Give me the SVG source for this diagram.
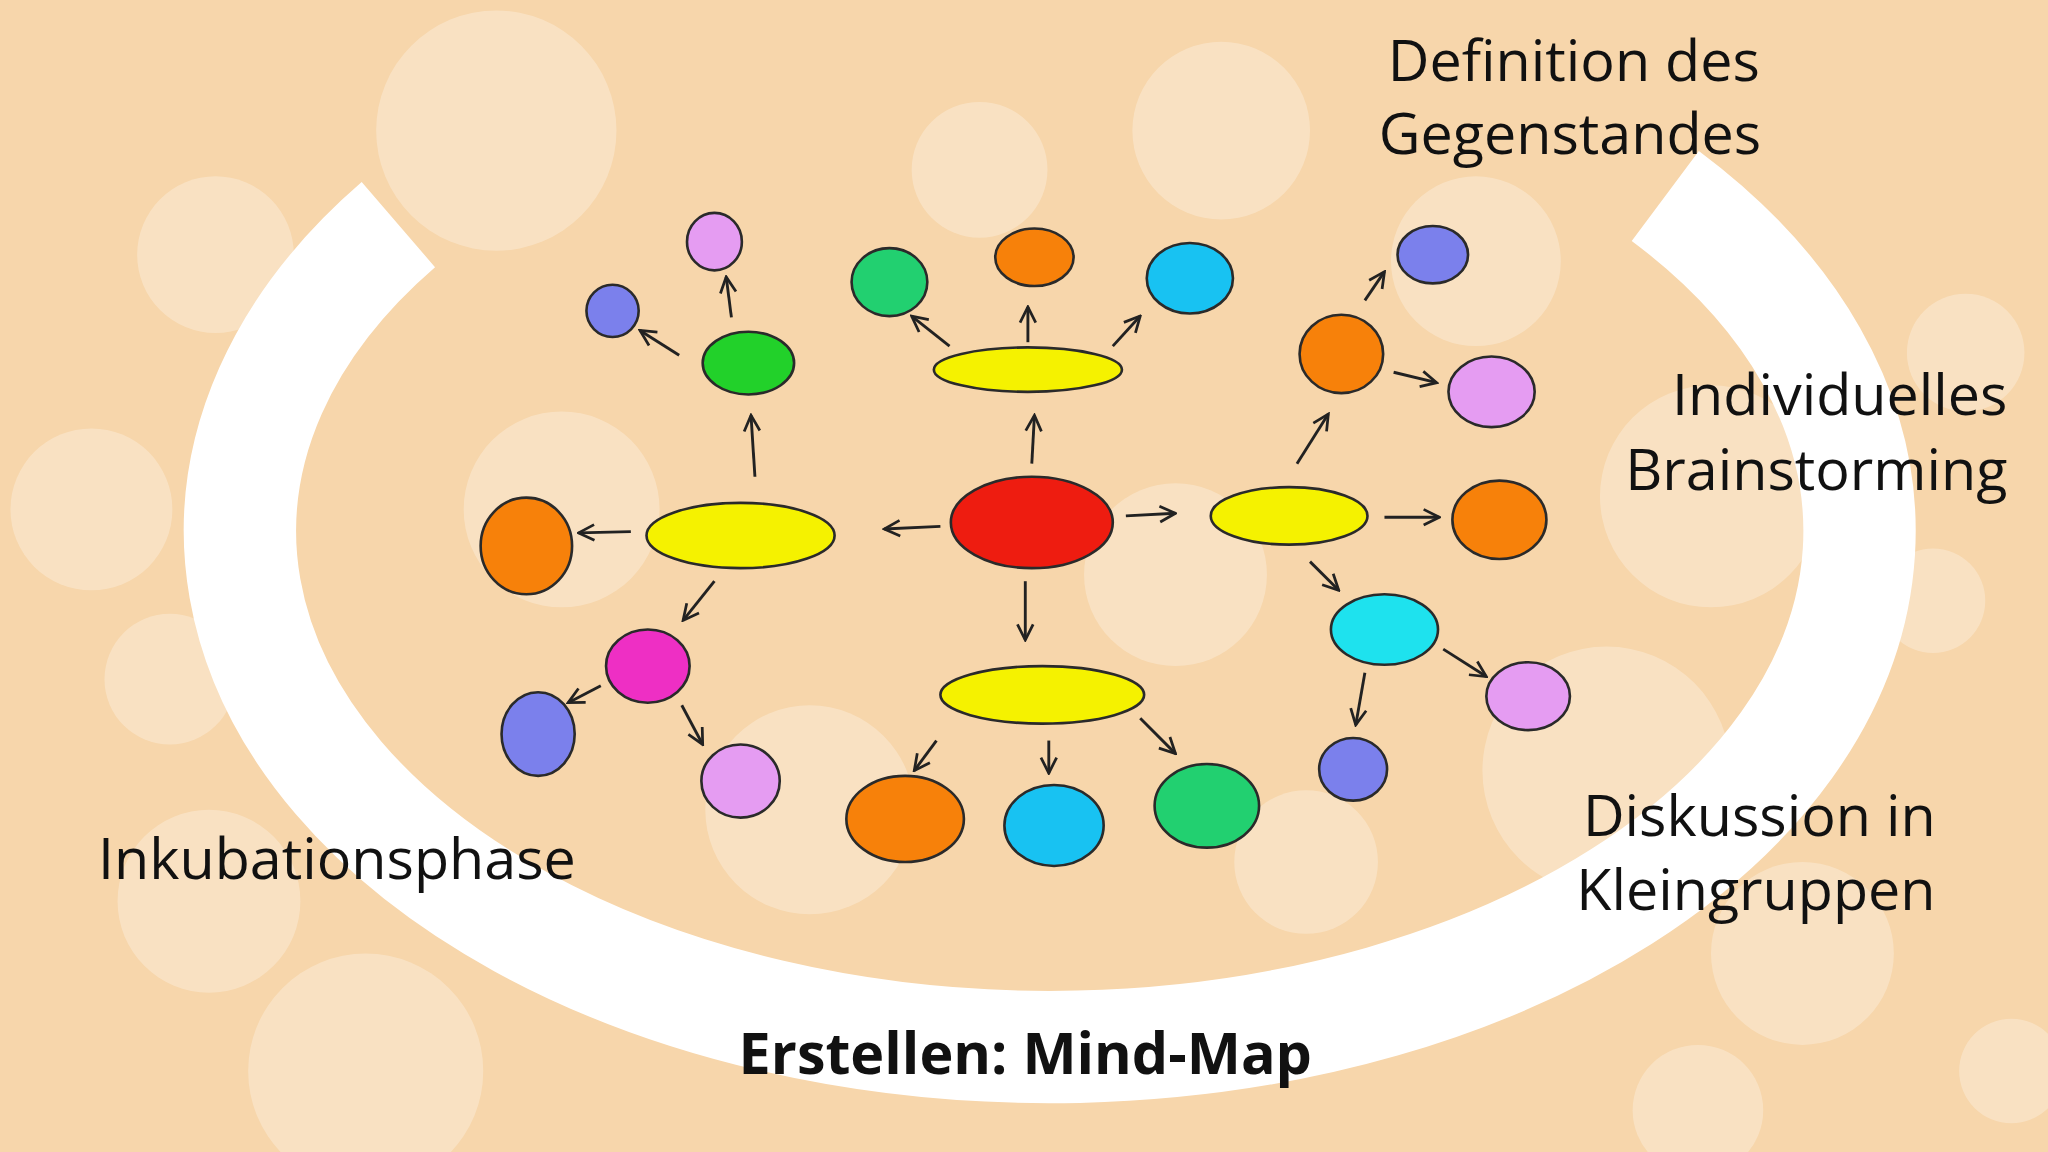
<svg xmlns="http://www.w3.org/2000/svg" width="2048" height="1152" viewBox="0 0 2048 1152">
<defs>
<style>
.n{stroke:#2a2a2a;stroke-width:2}
.c line{stroke:#222;stroke-width:2.2;marker-end:url(#a)}
.t{font-family:"Open Sans","Liberation Sans",sans-serif;font-size:44px;fill:#111}
.b{fill:#fff;opacity:0.28}
</style>
<marker id="a" viewBox="0 0 10 10" refX="9" refY="5" markerWidth="15" markerHeight="15" markerUnits="userSpaceOnUse" orient="auto"><path d="M1 1 L9 5 L1 9" fill="none" stroke="#222" stroke-width="1.4"/></marker>
</defs>
<rect width="2048" height="1152" fill="#f7d6ab"/>
<g transform="scale(1.3061)">
<g id="bokeh">
<circle class="b" cx="380" cy="100" r="92"/><circle class="b" cx="165" cy="195" r="60"/><circle class="b" cx="70" cy="390" r="62"/>
<circle class="b" cx="750" cy="130" r="52"/><circle class="b" cx="935" cy="100" r="68"/><circle class="b" cx="1130" cy="200" r="65"/>
<circle class="b" cx="1310" cy="380" r="85"/><circle class="b" cx="1505" cy="270" r="45"/><circle class="b" cx="1480" cy="460" r="40"/>
<circle class="b" cx="1230" cy="590" r="95"/><circle class="b" cx="1380" cy="730" r="70"/><circle class="b" cx="160" cy="690" r="70"/>
<circle class="b" cx="280" cy="820" r="90"/><circle class="b" cx="620" cy="620" r="80"/><circle class="b" cx="430" cy="390" r="75"/>
<circle class="b" cx="900" cy="440" r="70"/><circle class="b" cx="1000" cy="660" r="55"/><circle class="b" cx="1540" cy="820" r="40"/>
<circle class="b" cx="1300" cy="850" r="50"/><circle class="b" cx="130" cy="520" r="50"/>
</g>
<path id="ring" d="M305 172 A620 395 0 1 0 1275 150" fill="none" stroke="#fff" stroke-width="86"/>
<g class="c">
<line x1="720" y1="403" x2="677" y2="405"/><line x1="790" y1="355" x2="792" y2="318"/><line x1="862" y1="395" x2="900" y2="393"/><line x1="785" y1="445" x2="785" y2="490"/>
<line x1="483" y1="407" x2="443" y2="408"/><line x1="578" y1="365" x2="575" y2="318"/><line x1="560" y1="243" x2="556" y2="212"/><line x1="520" y1="272" x2="490" y2="253"/>
<line x1="547" y1="445" x2="523" y2="475"/><line x1="460" y1="525" x2="435" y2="538"/><line x1="522" y1="540" x2="538" y2="570"/>
<line x1="727" y1="265" x2="698" y2="242"/><line x1="787" y1="262" x2="787" y2="235"/><line x1="852" y1="265" x2="873" y2="242"/>
<line x1="993" y1="355" x2="1017" y2="317"/><line x1="1045" y1="230" x2="1060" y2="208"/><line x1="1067" y1="285" x2="1100" y2="293"/>
<line x1="1060" y1="396" x2="1102" y2="396"/><line x1="1003" y1="430" x2="1025" y2="452"/><line x1="1105" y1="497" x2="1138" y2="518"/><line x1="1045" y1="515" x2="1038" y2="555"/>
<line x1="717" y1="567" x2="700" y2="590"/><line x1="803" y1="567" x2="803" y2="592"/><line x1="873" y1="550" x2="900" y2="577"/>
</g>
<g id="center"><ellipse class="n" cx="790" cy="400" rx="62" ry="35" fill="#ee1c10"/></g>
<g id="yl"><ellipse class="n" cx="567" cy="410" rx="72" ry="25" fill="#f5f200"/></g>
<g id="yt"><ellipse class="n" cx="787" cy="283" rx="72" ry="17" fill="#f5f200"/></g>
<g id="yr"><ellipse class="n" cx="987" cy="395" rx="60" ry="22" fill="#f5f200"/></g>
<g id="yb"><ellipse class="n" cx="798" cy="532" rx="78" ry="22" fill="#f5f200"/></g>
<g id="n1"><ellipse class="n" cx="403" cy="418" rx="35" ry="37" fill="#f7810a"/></g>
<g id="n2"><ellipse class="n" cx="573" cy="278" rx="35" ry="24" fill="#22d12a"/></g>
<g id="n3"><ellipse class="n" cx="547" cy="185" rx="21" ry="22" fill="#e59cf2"/></g>
<g id="n4"><ellipse class="n" cx="469" cy="238" rx="20" ry="20" fill="#7b80ec"/></g>
<g id="n5"><ellipse class="n" cx="496" cy="510" rx="32" ry="28" fill="#ee2fc4"/></g>
<g id="n6"><ellipse class="n" cx="412" cy="562" rx="28" ry="32" fill="#7b80ec"/></g>
<g id="n7"><ellipse class="n" cx="567" cy="598" rx="30" ry="28" fill="#e59cf2"/></g>
<g id="n8"><ellipse class="n" cx="681" cy="216" rx="29" ry="26" fill="#22d070"/></g>
<g id="n9"><ellipse class="n" cx="792" cy="197" rx="30" ry="22" fill="#f7810a"/></g>
<g id="n10"><ellipse class="n" cx="911" cy="213" rx="33" ry="27" fill="#18c2f2"/></g>
<g id="n11"><ellipse class="n" cx="1027" cy="271" rx="32" ry="30" fill="#f7810a"/></g>
<g id="n12"><ellipse class="n" cx="1097" cy="195" rx="27" ry="22" fill="#7b80ec"/></g>
<g id="n13"><ellipse class="n" cx="1142" cy="300" rx="33" ry="27" fill="#e59cf2"/></g>
<g id="n14"><ellipse class="n" cx="1148" cy="398" rx="36" ry="30" fill="#f7810a"/></g>
<g id="n15"><ellipse class="n" cx="1060" cy="482" rx="41" ry="27" fill="#1ee2ee"/></g>
<g id="n16"><ellipse class="n" cx="1170" cy="533" rx="32" ry="26" fill="#e59cf2"/></g>
<g id="n17"><ellipse class="n" cx="1036" cy="589" rx="26" ry="24" fill="#7b80ec"/></g>
<g id="n18"><ellipse class="n" cx="693" cy="627" rx="45" ry="33" fill="#f7810a"/></g>
<g id="n19"><ellipse class="n" cx="807" cy="632" rx="38" ry="31" fill="#18c2f2"/></g>
<g id="n20"><ellipse class="n" cx="924" cy="617" rx="40" ry="32" fill="#22d070"/></g>
<g id="labels">
<text class="t" x="1205" y="62" text-anchor="middle">Definition des</text>
<text class="t" x="1202" y="118" text-anchor="middle">Gegenstandes</text>
<text class="t" x="1537" y="318" text-anchor="end">Individuelles</text>
<text class="t" x="1537" y="375" text-anchor="end">Brainstorming</text>
<text class="t" x="1482" y="640" text-anchor="end">Diskussion in</text>
<text class="t" x="1482" y="697" text-anchor="end">Kleingruppen</text>
<text class="t" x="75" y="673">Inkubationsphase</text>
<text class="t" x="785" y="822" text-anchor="middle" font-weight="bold">Erstellen: Mind-Map</text>
</g>
</g>
</svg>
